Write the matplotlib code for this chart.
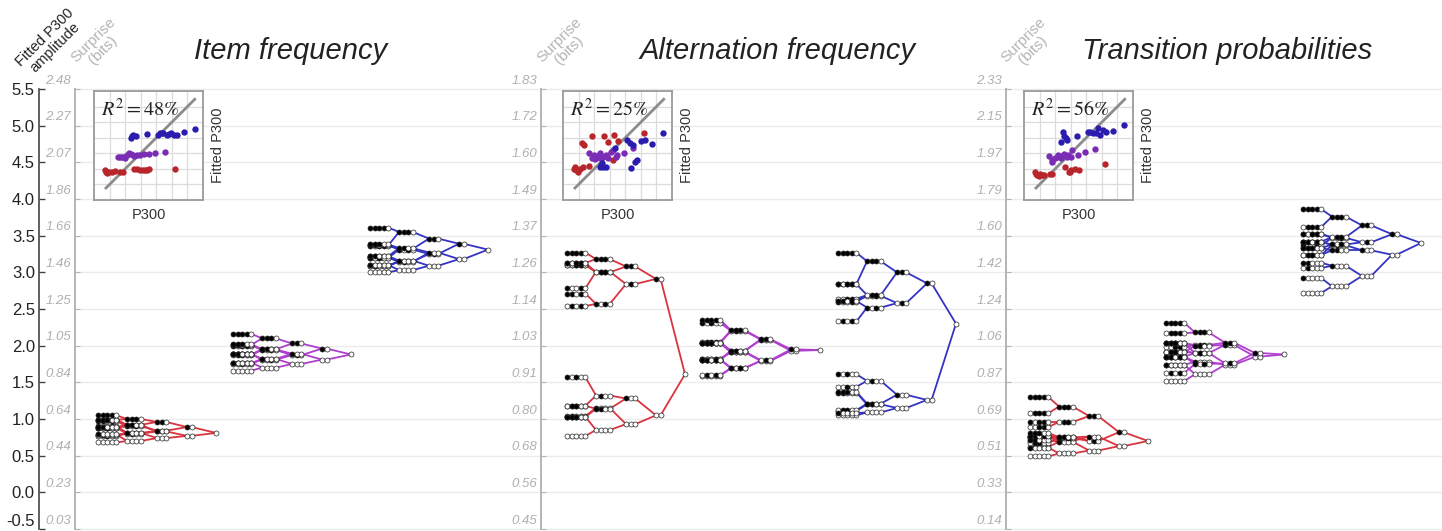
import matplotlib
matplotlib.use("Agg")
import matplotlib.pyplot as plt

W, H = 1442, 531

plt.rcParams['font.family'] = ['Liberation Sans', 'DejaVu Sans']
plt.rcParams['mathtext.fontset'] = 'stix'

# fitted P300 per node, one list per tree level (1 to 5 items);
# the index bits say which earlier items are black
item_low = [
    [0.81],
    [0.77, 0.89],
    [0.74, 0.84, 0.83, 0.96],
    [0.70, 0.81, 0.80, 0.92, 0.81, 0.90, 0.92, 1.00],
    [0.68, 0.78, 0.77, 0.89, 0.78, 0.88, 0.88, 0.99, 0.79, 0.90, 0.88, 0.98, 0.89, 0.97, 0.99, 1.05],
]
item_mid = [
    [1.88],
    [1.81, 1.96],
    [1.75, 1.87, 1.89, 2.03],
    [1.70, 1.81, 1.82, 1.95, 1.82, 1.94, 1.95, 2.10],
    [1.66, 1.76, 1.75, 1.88, 1.76, 1.88, 1.87, 2.01, 1.77, 1.89, 1.88, 2.00, 1.88, 2.01, 2.02, 2.16],
]
item_high = [
    [3.31],
    [3.18, 3.39],
    [3.09, 3.25, 3.27, 3.46],
    [3.03, 3.15, 3.14, 3.32, 3.16, 3.31, 3.33, 3.55],
    [3.00, 3.09, 3.10, 3.21, 3.08, 3.20, 3.22, 3.37, 3.10, 3.21, 3.20, 3.36, 3.22, 3.37, 3.38, 3.61],
]
alt_low = [
    [1.61],
    [1.05, 2.91],
    [0.93, 2.84, 1.28, 3.08],
    [0.85, 3.01, 1.32, 3.00, 1.15, 2.57, 1.14, 3.18],
    [0.77, 3.10, 1.18, 3.10, 1.04, 2.54, 1.18, 3.13, 1.03, 2.78, 1.57, 3.13, 1.03, 2.71, 1.03, 3.27],
]
alt_mid = [
    [1.94],
    [1.93, 1.95],
    [1.79, 1.80, 2.08, 2.09],
    [1.70, 1.92, 2.20, 1.93, 1.91, 1.69, 1.93, 2.21],
    [1.59, 2.04, 2.04, 1.81, 1.82, 1.60, 1.81, 2.05, 1.81, 1.82, 2.31, 2.04, 2.03, 1.81, 2.04, 2.35],
]
alt_high = [
    [2.30],
    [1.26, 2.85],
    [1.15, 2.58, 1.33, 3.00],
    [1.09, 2.68, 1.52, 2.69, 1.20, 2.52, 1.21, 3.15],
    [1.05, 2.62, 1.44, 2.64, 1.11, 2.33, 1.12, 2.84, 1.08, 2.60, 1.61, 2.84, 1.36, 2.61, 1.37, 3.27],
]
trans_low = [
    [0.70],
    [0.63, 0.82],
    [0.57, 0.70, 0.76, 1.04],
    [0.53, 0.76, 0.70, 0.96, 0.69, 0.74, 0.75, 1.17],
    [0.49, 0.74, 0.70, 0.89, 0.62, 0.75, 0.67, 1.08, 0.61, 0.77, 0.75, 0.96, 0.71, 0.77, 0.81, 1.30],
]
trans_mid = [
    [1.88],
    [1.85, 1.90],
    [1.74, 1.76, 2.01, 2.04],
    [1.61, 1.90, 1.90, 2.01, 1.78, 1.75, 2.00, 2.18],
    [1.52, 1.92, 1.92, 1.98, 1.74, 1.63, 1.91, 2.17, 1.74, 1.85, 2.03, 2.03, 1.85, 1.85, 2.03, 2.31],
]
trans_high = [
    [3.40],
    [3.24, 3.52],
    [2.95, 3.41, 3.30, 3.64],
    [2.81, 3.47, 3.37, 3.48, 3.09, 3.38, 3.30, 3.76],
    [2.72, 3.52, 3.24, 3.42, 3.06, 3.33, 3.24, 3.62, 2.92, 3.37, 3.42, 3.52, 3.13, 3.41, 3.33, 3.86],
]

titles = ['Item frequency', 'Alternation frequency', 'Transition probabilities']
r2_labels = ['48', '25', '56']
amp_ticks = [5.5, 5.0, 4.5, 4.0, 3.5, 3.0, 2.5, 2.0, 1.5, 1.0, 0.5, 0.0, -0.5]
item_bits = ['2.48', '2.27', '2.07', '1.86', '1.66', '1.46', '1.25', '1.05', '0.84', '0.64', '0.44', '0.23', '0.03']
alt_bits = ['1.83', '1.72', '1.60', '1.49', '1.37', '1.26', '1.14', '1.03', '0.91', '0.80', '0.68', '0.56', '0.45']
trans_bits = ['2.33', '2.15', '1.97', '1.79', '1.60', '1.42', '1.24', '1.06', '0.87', '0.69', '0.51', '0.33', '0.14']

# scatter insets: observed P300 (x) against fitted P300 (y), in grid cells
item_red_x = [0.73, 0.82, 0.97, 1.14, 1.35, 1.67, 1.85, 2.58, 2.75, 2.96, 3.13, 3.28, 3.43, 3.56, 5.21, 0.78]
item_red_y = [1.94, 1.73, 1.77, 1.83, 1.88, 1.83, 1.79, 1.98, 1.96, 1.94, 1.92, 1.90, 1.94, 1.96, 2.00, 1.83]
item_pur_x = [1.57, 1.78, 1.93, 2.10, 2.27, 2.49, 2.75, 2.96, 3.24, 3.50, 3.93, 4.53, 2.00, 2.36, 2.58, 1.70]
item_pur_y = [2.79, 2.75, 2.79, 2.90, 3.01, 2.90, 2.86, 2.90, 2.94, 2.96, 3.05, 3.11, 2.69, 2.96, 2.84, 2.75]
item_blu_x = [2.36, 2.53, 2.70, 3.39, 4.08, 4.25, 4.46, 4.68, 4.96, 5.11, 5.32, 5.75, 6.46, 2.42, 4.36, 4.80]
item_blu_y = [4.01, 4.18, 4.12, 4.22, 4.18, 4.29, 4.29, 4.18, 4.33, 4.18, 4.18, 4.39, 4.56, 4.12, 4.33, 4.25]

alt_red_x = [0.75, 0.85, 0.94, 1.11, 1.26, 1.68, 1.22, 1.32, 1.86, 2.64, 2.92, 3.28, 3.56, 5.20, 3.20, 0.68]
alt_red_y = [2.11, 1.94, 1.77, 1.98, 2.15, 2.20, 3.69, 3.50, 4.12, 4.12, 3.71, 4.18, 3.80, 4.29, 2.58, 1.98]
alt_pur_x = [1.64, 1.86, 2.07, 2.28, 2.39, 2.60, 2.77, 3.07, 3.24, 3.45, 3.41, 3.92, 4.52, 2.00, 2.35, 2.92]
alt_pur_y = [3.05, 2.69, 2.62, 2.90, 2.69, 2.79, 2.90, 3.11, 3.22, 2.90, 2.75, 3.05, 3.33, 2.90, 3.05, 2.69]
alt_blu_x = [2.39, 2.49, 2.60, 2.77, 3.35, 4.09, 4.31, 4.48, 4.37, 4.63, 4.78, 5.01, 5.27, 5.74, 6.44, 2.43]
alt_blu_y = [2.11, 2.37, 2.09, 2.11, 3.33, 3.86, 3.65, 3.50, 2.05, 2.47, 2.58, 3.80, 3.86, 3.60, 4.29, 2.26]

trans_red_x = [0.70, 0.81, 0.98, 1.13, 1.28, 1.66, 1.83, 2.62, 2.88, 3.05, 3.26, 3.54, 5.18, 0.77, 1.02, 2.94]
trans_red_y = [1.77, 1.62, 1.51, 1.62, 1.58, 1.68, 1.68, 2.11, 1.83, 1.94, 1.98, 1.94, 2.28, 1.68, 1.66, 1.77]
trans_pur_x = [1.62, 1.81, 1.98, 2.20, 2.35, 2.56, 2.73, 2.99, 3.11, 3.48, 3.94, 4.54, 1.83, 2.41, 2.84, 2.09]
trans_pur_y = [2.84, 2.58, 2.69, 2.90, 2.69, 2.96, 2.79, 2.75, 3.18, 2.88, 3.07, 3.28, 2.47, 2.84, 2.90, 2.75]
trans_blu_x = [2.37, 2.52, 2.56, 2.77, 3.41, 4.12, 4.26, 4.43, 4.65, 4.75, 4.86, 5.07, 5.25, 5.71, 6.44, 2.67]
trans_blu_y = [3.71, 4.39, 4.12, 3.86, 4.12, 4.35, 4.39, 4.33, 4.29, 4.61, 4.18, 4.50, 4.39, 4.43, 4.84, 3.97]

RED = '#d9343f'
PURPLE = '#b03fd0'
BLUE = '#3434c4'
DOT_RED = '#b8262c'
DOT_PURPLE = '#7a2cb4'
DOT_BLUE = '#2a1cae'
GRAY = '#b4b4b4'

# left edge of each tree (pixels) and layout of the tree levels
LEVEL_X = [118, 89, 59, 29, 0]
STEP = 4.6

panels = [
    dict(tree_x=[98, 233, 370], trees=[item_low, item_mid, item_high], axis_x=75,
         bits=item_bits, inset_x=94, title_x=291, surprise_x=98,
         dots=[(item_red_x, item_red_y), (item_pur_x, item_pur_y), (item_blu_x, item_blu_y)]),
    dict(tree_x=[567, 702, 838], trees=[alt_low, alt_mid, alt_high], axis_x=541,
         bits=alt_bits, inset_x=563, title_x=777, surprise_x=564,
         dots=[(alt_red_x, alt_red_y), (alt_pur_x, alt_pur_y), (alt_blu_x, alt_blu_y)]),
    dict(tree_x=[1030, 1166, 1303], trees=[trans_low, trans_mid, trans_high], axis_x=1006,
         bits=trans_bits, inset_x=1024, title_x=1227, surprise_x=1028,
         dots=[(trans_red_x, trans_red_y), (trans_pur_x, trans_pur_y), (trans_blu_x, trans_blu_y)]),
]


def draw_tree(ax, x0, levels, color):
    for depth in range(1, len(levels)):
        for idx, y in enumerate(levels[depth]):
            parent = idx % len(levels[depth - 1])
            x_child = x0 + LEVEL_X[depth] + depth * STEP
            x_parent = x0 + LEVEL_X[depth - 1]
            ax.plot([x_child, x_parent], [y, levels[depth - 1][parent]],
                    color=color, lw=1.3, zorder=3, solid_capstyle='round')
    for depth, values in enumerate(levels):
        for idx, y in enumerate(values):
            bits = format(idx, f'0{depth}b') + '0' if depth else '0'
            for k, bit in enumerate(bits):
                ax.plot(x0 + LEVEL_X[depth] + k * STEP, y, 'o', ms=3.6, mew=0.5,
                        mec='#222222', mfc='black' if bit == '1' else 'white', zorder=4)


def draw_inset(fig, left, dots, r2):
    iax = fig.add_axes([left / W, 1 - 200 / H, 109 / W, 109 / H], zorder=5)
    iax.set_xlim(0, 7)
    iax.set_ylim(0, 7)
    iax.set_xticks(range(1, 7))
    iax.set_yticks(range(1, 7))
    iax.tick_params(length=0, labelbottom=False, labelleft=False)
    iax.grid(True, color='#dcdcdc', lw=0.9)
    iax.set_axisbelow(True)
    for side in iax.spines.values():
        side.set_color('#9a9a9a')
        side.set_linewidth(1.3)
    iax.plot([0.77, 6.47], [0.77, 6.47], color='#8c8c8c', lw=2, zorder=2)
    for (xs, ys), c in zip(dots, [DOT_RED, DOT_PURPLE, DOT_BLUE]):
        iax.scatter(xs, ys, s=21, color=c, linewidths=0, zorder=3)
    iax.text(0.42, 5.85, rf'$R^2 = {r2}\%$', fontsize=14.5, color='#222222', va='center', ha='left')
    iax.set_xlabel('P300', fontsize=10.5, color='#333333', labelpad=6)
    iax.yaxis.set_label_position('right')
    iax.set_ylabel('Fitted P300', fontsize=10.5, color='#333333', labelpad=6)


def main():
    fig = plt.figure(figsize=(W / 100, H / 100), dpi=100)
    ax = fig.add_axes([0, 0, 1, 1])
    ax.set_xlim(0, W)
    # 73.33 px per unit, amplitude 0 sits at pixel row 492.33
    ax.set_ylim((492.33 - H) / 73.33, 492.33 / 73.33)
    ax.patch.set_alpha(0)

    for side in ['top', 'right', 'bottom']:
        ax.spines[side].set_visible(False)
    ax.spines['left'].set_position(('data', 39))
    ax.spines['left'].set_bounds(-0.5, 5.5)
    ax.spines['left'].set_color('#444444')
    ax.spines['left'].set_linewidth(1.2)
    ax.set_xticks([])
    ax.set_yticks(amp_ticks)
    ax.set_yticklabels([f'{t:.1f}' for t in amp_ticks], fontsize=12, color='#222222')
    ax.get_yticklabels()[-1].set_verticalalignment('bottom')
    ax.tick_params(axis='y', direction='in', length=4, width=1, color='#444444', pad=3)

    ax.hlines(amp_ticks, 75, W, color='#ebebeb', lw=1, zorder=1)

    for p, title in zip(panels, titles):
        ax.plot([p['axis_x']] * 2, [-0.5, 5.5], color=GRAY, lw=1.4, zorder=2)
        ax.hlines(amp_ticks, p['axis_x'], p['axis_x'] + 5, color=GRAY, lw=0.8, zorder=2)
        for t, lab in zip(amp_ticks, p['bits']):
            ax.annotate(lab, (p['axis_x'] - 4, t), xytext=(0, 6), textcoords='offset points',
                        ha='right', va='center', fontsize=9.5, style='italic', color='#b0b0b0')
        for x0, tree, c in zip(p['tree_x'], p['trees'], [RED, PURPLE, BLUE]):
            draw_tree(ax, x0, tree, c)
        ax.text(p['title_x'], 5.91, title, fontsize=21, style='italic', color='#222222',
                ha='center', va='baseline')
        ax.text(p['surprise_x'], 6.1, 'Surprise\n(bits)', rotation=45, fontsize=11, color='#b4b4b4',
                ha='center', va='center', linespacing=1.0, rotation_mode='anchor')

    ax.text(50, 6.13, 'Fitted P300\namplitude', rotation=45, fontsize=10.5, color='#222222',
            ha='center', va='center', linespacing=1.0, rotation_mode='anchor')

    for p, r2 in zip(panels, r2_labels):
        draw_inset(fig, p['inset_x'], p['dots'], r2)

    fig.savefig('out.png', dpi=100)
    plt.close(fig)


if __name__ == "__main__":
    main()
